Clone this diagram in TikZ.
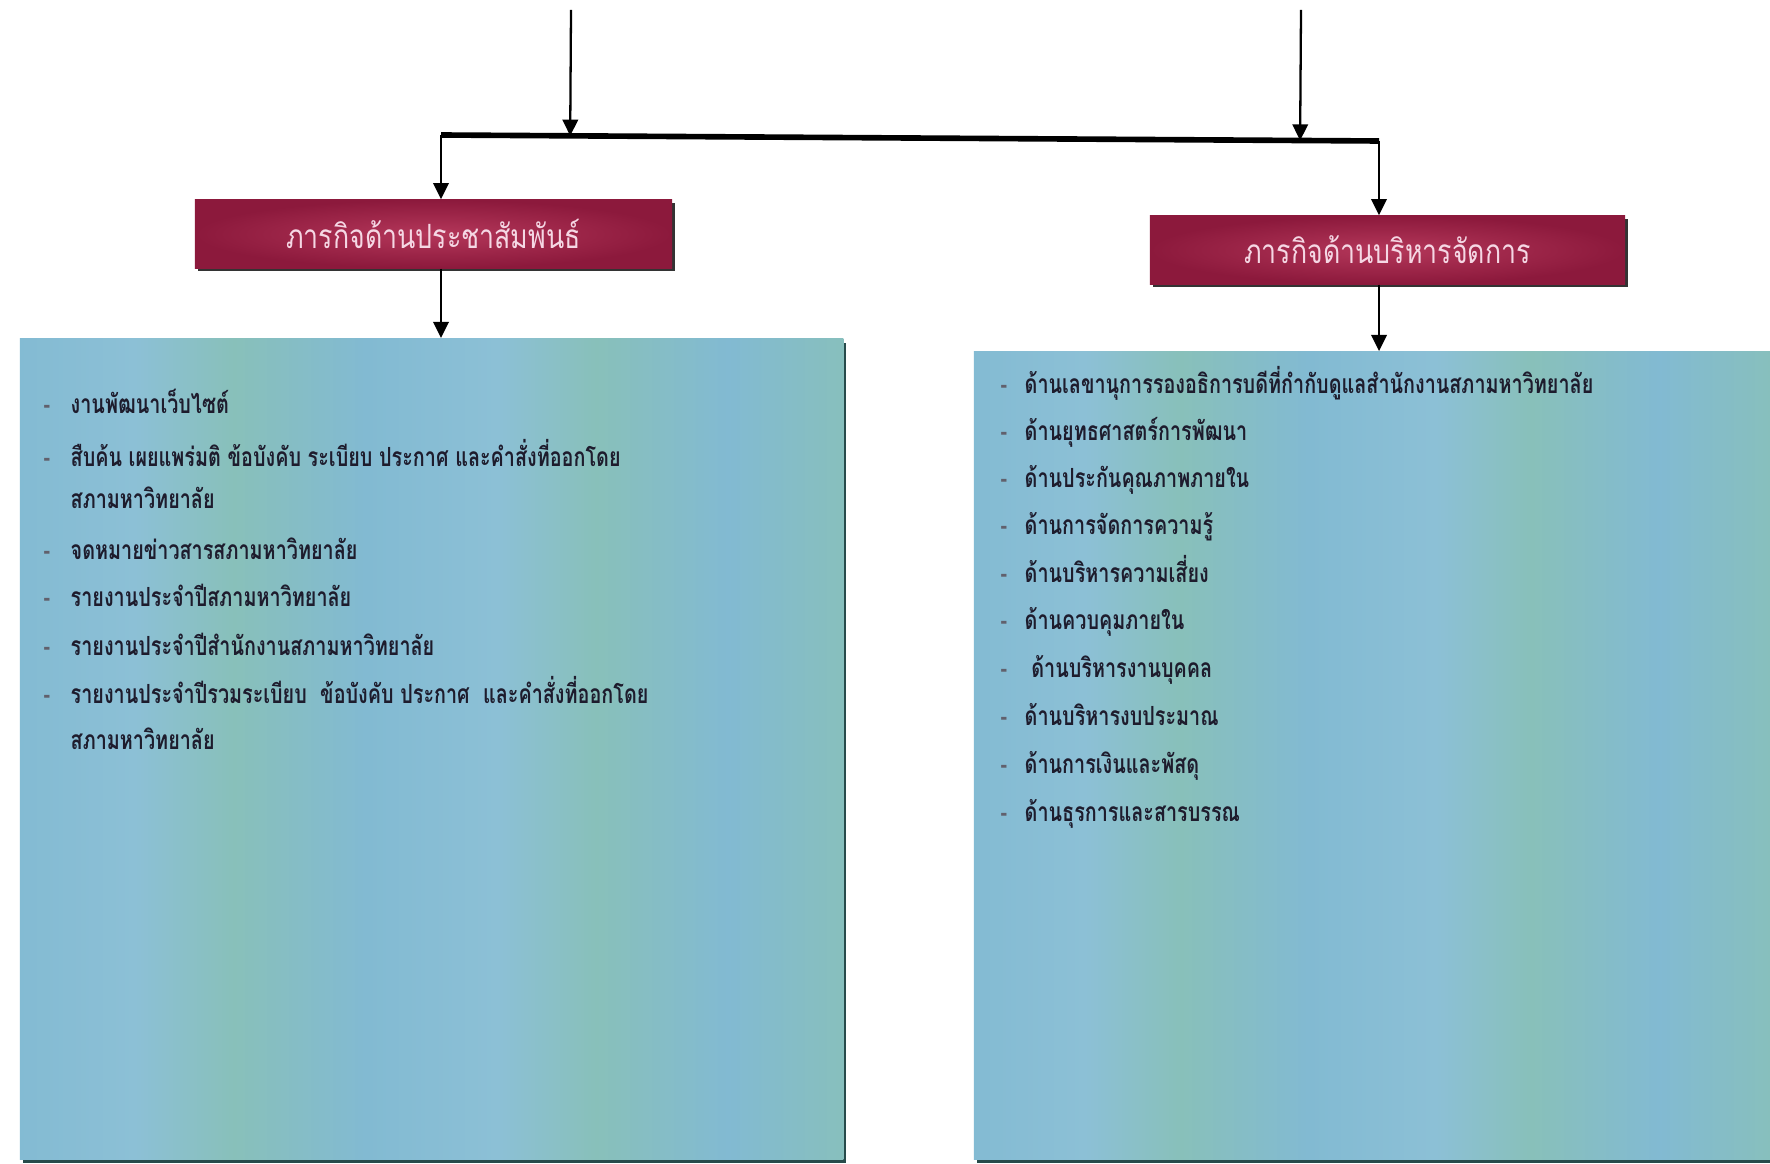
\documentclass[tikz,border=0pt]{standalone}
\usepackage{fontspec}
\newfontfamily\thaititle[Script=Thai,FakeStretch=0.8]{Loma}
\newfontfamily\thaiitem[Script=Thai,FakeStretch=0.75]{Loma}
\usetikzlibrary{arrows.meta,positioning,shadows,calc}

\definecolor{boxred}{RGB}{140,25,60}
\definecolor{boxredlight}{RGB}{180,55,90}
\definecolor{bluea}{RGB}{130,186,210}
\definecolor{blueb}{RGB}{136,192,186}
\definecolor{bluec}{RGB}{140,192,214}
\definecolor{tealdark}{RGB}{40,75,75}
\definecolor{titleink}{RGB}{245,215,228}
\definecolor{itemink}{RGB}{30,28,45}

\pgfdeclarehorizontalshading{streaks}{100bp}{color(0bp)=(bluea); color(5bp)=(blueb);
  color(10bp)=(bluec); color(17bp)=(blueb); color(24bp)=(bluea); color(32bp)=(bluec);
  color(38bp)=(blueb); color(46bp)=(bluea); color(54bp)=(bluec); color(60bp)=(blueb);
  color(68bp)=(bluea); color(76bp)=(blueb); color(84bp)=(bluec); color(92bp)=(blueb);
  color(100bp)=(bluea)}

\begin{document}
\begin{tikzpicture}[x=0.01cm, y=-0.01cm,
  link/.style={line width=0.65pt, -{Triangle[length=4.6pt,width=4.4pt]}},
  redbox/.style={inner color=boxredlight, outer color=boxred, minimum height=0.68cm,
    drop shadow={shadow xshift=0.9pt, shadow yshift=-0.9pt, fill=black!80, opacity=1},
    text=titleink, font=\thaititle\fontsize{9.5}{11}\selectfont},
  bluebox/.style={shade, shading=streaks,
    drop shadow={shadow xshift=0.9pt, shadow yshift=-1.1pt, fill=tealdark, opacity=1}},
  itemtext/.style={anchor=west, inner sep=0pt, text height=1ex, text depth=0pt,
    text=itemink, font=\thaiitem\bfseries\fontsize{7.5}{9}\selectfont},
  dashtext/.style={itemtext, text=itemink!70}]

\useasboundingbox (0,0) rectangle (1770,1164);

% two headings and their boxes
\node[redbox, minimum width=4.77cm] (pr) at (433.5,234) {ภารกิจด้านประชาสัมพันธ์};
\node[redbox, minimum width=4.75cm] (ad) at (1387.5,250) {ภารกิจด้านบริหารจัดการ};

\node[bluebox, minimum width=8.23cm, minimum height=8.2cm] (prlist) at (431.5,749) {};
\node[bluebox, minimum width=7.96cm, minimum height=8.07cm] (adlist) at (1372,755.5) {};

% bar and arrows
\coordinate (topl) at (571,10);
\coordinate (topr) at (1301,10);
\coordinate (barl) at (441,135);
\coordinate (barr) at (1379,141);

\draw[line width=1.6pt] (barl) -- (barr);
\draw[link] (topl) -- ($(barl)!(topl)!(barr)$);
\draw[link] (topr) -- ($(barl)!(topr)!(barr)$);
\draw[link] (barl) -- (barl |- pr.north);
\draw[link] (barr) -- (barr |- ad.north);
\draw[link] (barl |- pr.south) -- (barl |- prlist.north);
\draw[link] (barr |- ad.south) -- (barr |- adlist.north);

% left list
\foreach \i/\y/\dsh/\txt in {1/406/-/งานพัฒนาเว็บไซต์,
    2/459/-/สืบค้น เผยแพร่มติ ข้อบังคับ ระเบียบ ประกาศ และคำสั่งที่ออกโดย,
    3/501//สภามหาวิทยาลัย,
    4/552/-/จดหมายข่าวสารสภามหาวิทยาลัย,
    5/599/-/รายงานประจำปีสภามหาวิทยาลัย,
    6/648/-/รายงานประจำปีสำนักงานสภามหาวิทยาลัย,
    7/696/-/รายงานประจำปีรวมระเบียบ\ \ ข้อบังคับ ประกาศ\ \ และคำสั่งที่ออกโดย,
    8/742//สภามหาวิทยาลัย} {
  \node[itemtext] (pr\i) at (70,\y) {\txt};
  \node[dashtext] at (43,\y) {\dsh};
}

% right list
\foreach \i/\y/\txt in {1/386/ด้านเลขานุการรองอธิการบดีที่กำกับดูแลสำนักงานสภามหาวิทยาลัย,
    2/433/ด้านยุทธศาสตร์การพัฒนา,
    3/480/ด้านประกันคุณภาพภายใน,
    4/527/ด้านการจัดการความรู้,
    5/575/ด้านบริหารความเสี่ยง,
    6/622/ด้านควบคุมภายใน,
    7/670/\ ด้านบริหารงานบุคคล,
    8/718/ด้านบริหารงบประมาณ,
    9/766/ด้านการเงินและพัสดุ,
    10/814/ด้านธุรการและสารบรรณ} {
  \node[itemtext] (ad\i) at (1024,\y) {\txt};
  \node[dashtext] at (1000,\y) {-};
}
\end{tikzpicture}
\end{document}
